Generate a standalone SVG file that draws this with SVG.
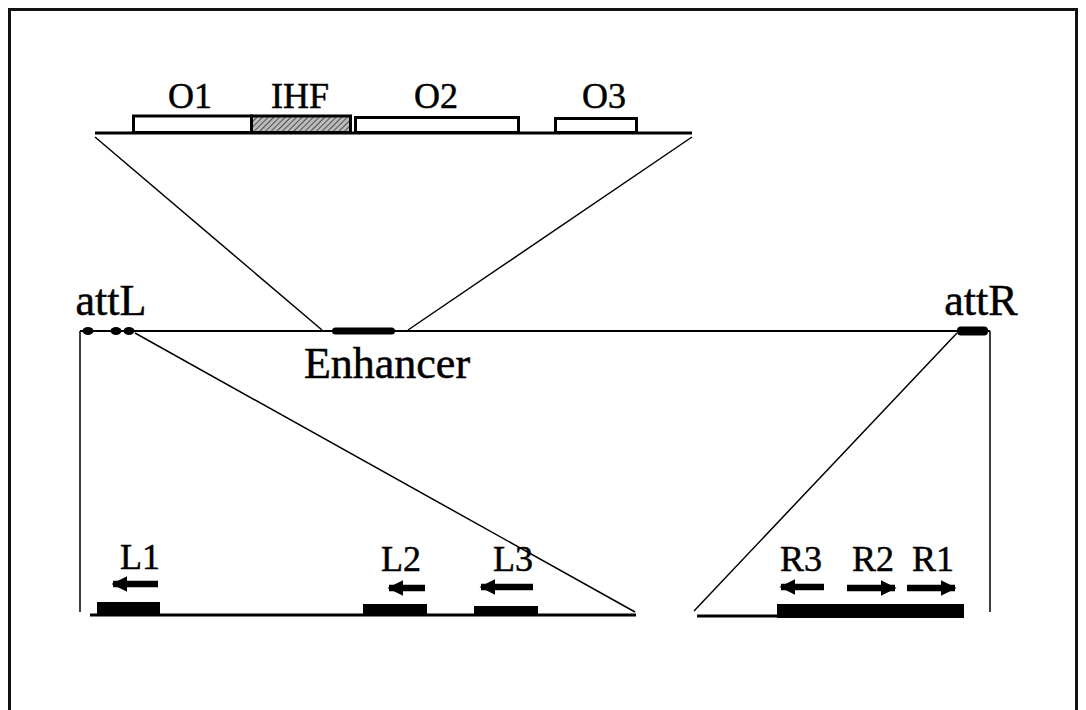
<svg xmlns="http://www.w3.org/2000/svg" width="1086" height="710" viewBox="0 0 1086 710">
  <style>
    .lbl { font-family: "Liberation Serif", "Times New Roman", serif; fill: #000; stroke: #000; stroke-width: 0.5; text-anchor: middle; }
    .big { font-size: 44px; }
    .mid { font-size: 36px; }
    .thin { stroke: #000; stroke-width: 1.5; fill: none; }
    .dna { stroke: #000; stroke-width: 3; fill: none; }
    .site { fill: #000; }
    .box { fill: #fff; stroke: #000; stroke-width: 3; }
    .arrow { stroke: #000; stroke-width: 6.5; }
  </style>
  <defs>
    <pattern id="hatch" width="4" height="4" patternUnits="userSpaceOnUse" patternTransform="rotate(45)">
      <rect width="4" height="4" fill="#bbb"/>
      <line x1="0" y1="0" x2="0" y2="4" stroke="#333" stroke-width="1.6"/>
    </pattern>
    <marker id="head" viewBox="0 0 10 10" refX="9" refY="5" markerWidth="2.4" markerHeight="2.4" markerUnits="strokeWidth" orient="auto">
      <path d="M0,0 L10,5 L0,10 z" fill="#000"/>
    </marker>
  </defs>

  <rect x="0" y="0" width="1086" height="710" fill="#fff"/>
  <rect x="9.5" y="9.5" width="1067" height="720" fill="none" stroke="#111" stroke-width="3"/>

  <!-- connectors: expansion lines and frame lines -->
  <g id="connectors">
    <line class="thin" x1="95" y1="137" x2="322" y2="330"/>
    <line class="thin" x1="692" y1="137" x2="408" y2="330"/>
    <line class="thin" x1="80" y1="331" x2="80" y2="612"/>
    <line class="thin" x1="990" y1="331" x2="990" y2="612"/>
    <line class="thin" x1="135" y1="333" x2="635" y2="612"/>
    <line class="thin" x1="957" y1="333" x2="694" y2="611"/>
  </g>

  <!-- enhancer detail: operator sites -->
  <g id="enhancer-detail">
    <line class="dna" x1="95" y1="133" x2="692" y2="133"/>
    <rect id="O1" class="box" x="133.5" y="116" width="118" height="16.5"/>
    <rect id="IHF" x="251.5" y="116" width="99" height="16.5" fill="url(#hatch)" stroke="#000" stroke-width="3"/>
    <rect id="O2" class="box" x="355.5" y="117.5" width="163" height="15"/>
    <rect id="O3" class="box" x="555.5" y="118.5" width="81" height="14"/>
    <text class="lbl mid" x="190" y="108">O1</text>
    <text class="lbl mid" x="300" y="108">IHF</text>
    <text class="lbl mid" x="436" y="108">O2</text>
    <text class="lbl mid" x="604" y="108">O3</text>
  </g>

  <!-- full invertible segment -->
  <g id="segment">
    <line stroke="#000" stroke-width="2" x1="80" y1="331" x2="990" y2="331"/>
    <ellipse class="site" cx="88" cy="331" rx="5.5" ry="4"/>
    <ellipse class="site" cx="116" cy="331" rx="5.5" ry="4"/>
    <ellipse class="site" cx="129" cy="331" rx="5.5" ry="4"/>
    <rect class="site" x="332" y="327.5" width="63" height="7" rx="3.5"/>
    <rect class="site" x="957" y="326.5" width="31" height="9" rx="4"/>
    <text class="lbl big" x="111" y="315">attL</text>
    <text class="lbl big" x="981" y="315">attR</text>
    <text class="lbl big" x="387" y="378">Enhancer</text>
  </g>

  <!-- attL detail -->
  <g id="attL-detail">
    <line class="dna" x1="90" y1="615" x2="636" y2="615"/>
    <rect class="site" x="97" y="602" width="63" height="13"/>
    <rect class="site" x="363" y="604" width="64" height="11"/>
    <rect class="site" x="474" y="606" width="64" height="9"/>
    <line class="arrow" x1="158" y1="584" x2="113" y2="584" marker-end="url(#head)"/>
    <line class="arrow" x1="425" y1="588" x2="389" y2="588" marker-end="url(#head)"/>
    <line class="arrow" x1="533" y1="587" x2="481" y2="587" marker-end="url(#head)"/>
    <text class="lbl mid" x="140" y="569">L1</text>
    <text class="lbl mid" x="401" y="571">L2</text>
    <text class="lbl mid" x="513" y="571">L3</text>
  </g>

  <!-- attR detail -->
  <g id="attR-detail">
    <line class="dna" x1="697" y1="616" x2="964" y2="616"/>
    <rect class="site" x="777" y="604" width="187" height="14"/>
    <line class="arrow" x1="824" y1="587" x2="781" y2="587" marker-end="url(#head)"/>
    <line class="arrow" x1="847" y1="588" x2="895" y2="588" marker-end="url(#head)"/>
    <line class="arrow" x1="907" y1="588" x2="955" y2="588" marker-end="url(#head)"/>
    <text class="lbl mid" x="801" y="571">R3</text>
    <text class="lbl mid" x="873" y="571">R2</text>
    <text class="lbl mid" x="933" y="571">R1</text>
  </g>
</svg>
